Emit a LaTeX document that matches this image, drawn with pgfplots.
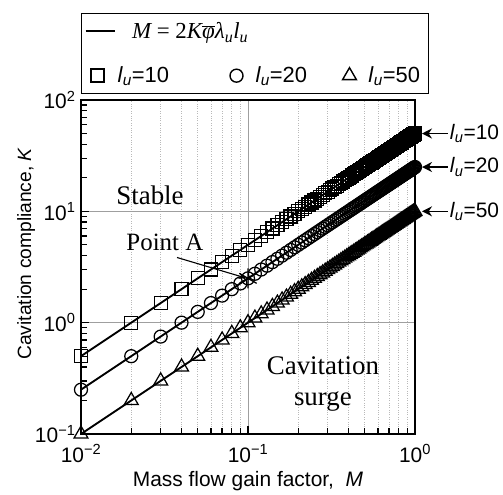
\documentclass[border=0pt]{standalone}
\usepackage{fontspec}
\setmainfont{Liberation Sans}
\newfontfamily\tnr{Liberation Serif}
\usepackage{pgfplots}
\pgfplotsset{compat=1.18}
\usepackage{pgfplotstable}
\usetikzlibrary{arrows.meta}

% K = M / (2 phi lambda_u l_u) sampled at M = 0.01, 0.02, ..., 1.00
\pgfplotstableread[row sep=\\]{
M K10 K20 K50\\
0.01 0.5 0.25 0.1\\ 0.02 1 0.5 0.2\\ 0.03 1.5 0.75 0.3\\ 0.04 2 1 0.4\\ 0.05 2.5 1.25 0.5\\
0.06 3 1.5 0.6\\ 0.07 3.5 1.75 0.7\\ 0.08 4 2 0.8\\ 0.09 4.5 2.25 0.9\\ 0.10 5 2.5 1\\
0.11 5.5 2.75 1.1\\ 0.12 6 3 1.2\\ 0.13 6.5 3.25 1.3\\ 0.14 7 3.5 1.4\\ 0.15 7.5 3.75 1.5\\
0.16 8 4 1.6\\ 0.17 8.5 4.25 1.7\\ 0.18 9 4.5 1.8\\ 0.19 9.5 4.75 1.9\\ 0.20 10 5 2\\
0.21 10.5 5.25 2.1\\ 0.22 11 5.5 2.2\\ 0.23 11.5 5.75 2.3\\ 0.24 12 6 2.4\\ 0.25 12.5 6.25 2.5\\
0.26 13 6.5 2.6\\ 0.27 13.5 6.75 2.7\\ 0.28 14 7 2.8\\ 0.29 14.5 7.25 2.9\\ 0.30 15 7.5 3\\
0.31 15.5 7.75 3.1\\ 0.32 16 8 3.2\\ 0.33 16.5 8.25 3.3\\ 0.34 17 8.5 3.4\\ 0.35 17.5 8.75 3.5\\
0.36 18 9 3.6\\ 0.37 18.5 9.25 3.7\\ 0.38 19 9.5 3.8\\ 0.39 19.5 9.75 3.9\\ 0.40 20 10 4\\
0.41 20.5 10.25 4.1\\ 0.42 21 10.5 4.2\\ 0.43 21.5 10.75 4.3\\ 0.44 22 11 4.4\\ 0.45 22.5 11.25 4.5\\
0.46 23 11.5 4.6\\ 0.47 23.5 11.75 4.7\\ 0.48 24 12 4.8\\ 0.49 24.5 12.25 4.9\\ 0.50 25 12.5 5\\
0.51 25.5 12.75 5.1\\ 0.52 26 13 5.2\\ 0.53 26.5 13.25 5.3\\ 0.54 27 13.5 5.4\\ 0.55 27.5 13.75 5.5\\
0.56 28 14 5.6\\ 0.57 28.5 14.25 5.7\\ 0.58 29 14.5 5.8\\ 0.59 29.5 14.75 5.9\\ 0.60 30 15 6\\
0.61 30.5 15.25 6.1\\ 0.62 31 15.5 6.2\\ 0.63 31.5 15.75 6.3\\ 0.64 32 16 6.4\\ 0.65 32.5 16.25 6.5\\
0.66 33 16.5 6.6\\ 0.67 33.5 16.75 6.7\\ 0.68 34 17 6.8\\ 0.69 34.5 17.25 6.9\\ 0.70 35 17.5 7\\
0.71 35.5 17.75 7.1\\ 0.72 36 18 7.2\\ 0.73 36.5 18.25 7.3\\ 0.74 37 18.5 7.4\\ 0.75 37.5 18.75 7.5\\
0.76 38 19 7.6\\ 0.77 38.5 19.25 7.7\\ 0.78 39 19.5 7.8\\ 0.79 39.5 19.75 7.9\\ 0.80 40 20 8\\
0.81 40.5 20.25 8.1\\ 0.82 41 20.5 8.2\\ 0.83 41.5 20.75 8.3\\ 0.84 42 21 8.4\\ 0.85 42.5 21.25 8.5\\
0.86 43 21.5 8.6\\ 0.87 43.5 21.75 8.7\\ 0.88 44 22 8.8\\ 0.89 44.5 22.25 8.9\\ 0.90 45 22.5 9\\
0.91 45.5 22.75 9.1\\ 0.92 46 23 9.2\\ 0.93 46.5 23.25 9.3\\ 0.94 47 23.5 9.4\\ 0.95 47.5 23.75 9.5\\
0.96 48 24 9.6\\ 0.97 48.5 24.25 9.7\\ 0.98 49 24.5 9.8\\ 0.99 49.5 24.75 9.9\\ 1.00 50 25 10\\
}\gaindata

\newcommand{\lu}{\textit{l}\textsubscript{\textit{u}}}

\begin{document}
\begin{tikzpicture}
\begin{axis}[
  width=334bp, height=334bp, scale only axis,
  xmode=log, ymode=log, log basis x=10, log basis y=10,
  xmin=0.01, xmax=1, ymin=0.1, ymax=100,
  xtick={0.01,0.1,1},
  xticklabels={10\textsuperscript{−2},10\textsuperscript{−1},10\textsuperscript{0}},
  ytick={0.1,1,10,100},
  yticklabels={10\textsuperscript{−1},10\textsuperscript{0},10\textsuperscript{1},10\textsuperscript{2}},
  minor xtick={0.02,0.03,0.04,0.05,0.06,0.07,0.08,0.09,0.2,0.3,0.4,0.5,0.6,0.7,0.8,0.9},
  minor ytick={0.2,0.3,0.4,0.5,0.6,0.7,0.8,0.9,2,3,4,5,6,7,8,9,20,30,40,50,60,70,80,90},
  tick pos=left, tick align=inside,
  major tick length=8bp, minor tick length=6bp,
  every major tick/.style={black, line width=1.3pt},
  every minor tick/.style={black, line width=1.3pt},
  axis line style={line width=1.7pt},
  xmajorgrids, ymajorgrids, xminorgrids,
  major grid style={gray!75, line width=0.9pt},
  minor grid style={gray!55, dotted, line width=0.8pt},
  tick label style={font=\fontsize{21}{25}\selectfont},
  xticklabel style={yshift=-7bp},
  yticklabel style={xshift=-2bp},
  xlabel={Mass flow gain factor, \ \textit{M}},
  xlabel style={font=\fontsize{21}{25}\selectfont, yshift=-2bp},
  ylabel={Cavitation compliance, \textit{K}},
  ylabel style={font=\fontsize{19.3}{23}\selectfont, at={(ticklabel cs:0.54)}, yshift=-7bp},
  clip mode=individual,
  legend columns=3,
  legend style={
    at={(rel axis cs:0,1)}, anchor=south west, yshift=6bp,
    draw=black, line width=1.3pt,
    font=\fontsize{22}{26}\selectfont,
    inner xsep=3bp, inner ysep=7bp,
    row sep=23bp,
    /tikz/every odd column/.append style={column sep=0bp},
    /tikz/every even column/.append style={column sep=28bp},
  },
]
  % lines M = 2 K phi lambda_u l_u
  \addplot[forget plot, black, line width=1.9pt, no marks] table[x=M, y=K10] {\gaindata};
  \addplot[forget plot, black, line width=1.9pt, no marks] table[x=M, y=K20] {\gaindata};
  \addplot[forget plot, black, line width=1.9pt, no marks] table[x=M, y=K50] {\gaindata};
  % computed points
  \addplot[forget plot, only marks, mark=square, mark size=6.5bp, black, line width=1.25pt] table[x=M, y=K10] {\gaindata};
  \addplot[forget plot, only marks, mark=o, mark size=6.5bp, black, line width=1.25pt] table[x=M, y=K20] {\gaindata};
  \addplot[forget plot, only marks, mark=triangle, mark size=8bp, black, line width=1.25pt] table[x=M, y=K50] {\gaindata};
  % Point A
  \addplot[forget plot, only marks, mark=asterisk, mark size=10bp, black, line width=1.3pt] coordinates {(0.1,2.5)};

  % legend (all images share the width of the line sample)
  \addlegendimage{legend image code/.code={\draw[black, line width=1.9pt] (-6bp,0bp) -- (23bp,0bp);}}
  \addlegendentry{\makebox[0pt][l]{\hspace{-24bp}\tnr\fontsize{23}{27}\selectfont\itshape M\upshape\ = 2\itshape K$\overline{\hbox{\tnr\itshape φ}}$λ\textsubscript{u}l\textsubscript{u}}}
  \addlegendimage{empty legend}\addlegendentry{}
  \addlegendimage{empty legend}\addlegendentry{}
  \addlegendimage{legend image code/.code={\path[draw=none] (-6bp,0bp) -- (23bp,0bp);
    \draw[black, line width=1.4pt, mark size=6.5bp] plot[only marks, mark=square] coordinates {(6bp,0bp)};}}
  \addlegendentry{\makebox[77bp][l]{\lu=10}}
  \addlegendimage{legend image code/.code={\path[draw=none] (-6bp,0bp) -- (23bp,0bp);
    \draw[black, line width=1.4pt, mark size=6.5bp] plot[only marks, mark=o] coordinates {(6bp,0bp)};}}
  \addlegendentry{\makebox[52bp][l]{\lu=20}}
  \addlegendimage{legend image code/.code={\path[draw=none] (-6bp,0bp) -- (23bp,0bp);
    \draw[black, line width=1.4pt, mark size=8bp] plot[only marks, mark=triangle] coordinates {(6bp,0bp)};}}
  \addlegendentry{\makebox[55bp][l]{\lu=50}}

  % region labels
  \node[font=\tnr\fontsize{27}{32}\selectfont] at (axis cs:0.0259,13.9) {Stable};
  \node[font=\tnr\fontsize{25}{30}\selectfont] at (axis cs:0.0318,5.25) {Point A};
  \node[font=\tnr\fontsize{27}{31}\selectfont, align=center] at (axis cs:0.281,0.282) {Cavitation\\surge};
  \draw[-{Stealth[length=7bp,width=6bp]}, line width=1.1pt] (axis cs:0.0376,3.85) -- (axis cs:0.097,2.52);

  % curve labels on the right
  \draw[{Stealth[length=10bp,width=10bp]}-, line width=1.6pt]
    ([xshift=7bp]axis cs:1,50) -- ([xshift=33bp]axis cs:1,50)
    node[anchor=west, inner sep=1bp, font=\fontsize{21}{25}\selectfont] {\lu=10};
  \draw[{Stealth[length=10bp,width=10bp]}-, line width=1.6pt]
    ([xshift=7bp]axis cs:1,25) -- ([xshift=33bp]axis cs:1,25)
    node[anchor=west, inner sep=1bp, font=\fontsize{21}{25}\selectfont] {\lu=20};
  \draw[{Stealth[length=10bp,width=10bp]}-, line width=1.6pt]
    ([xshift=7bp]axis cs:1,10) -- ([xshift=33bp]axis cs:1,10)
    node[anchor=west, inner sep=1bp, font=\fontsize{21}{25}\selectfont] {\lu=50};

  % page extent
  \path (rel axis cs:-0.2425,-0.1647) rectangle (rel axis cs:1.2635,1.2994);
\end{axis}
\end{tikzpicture}
\end{document}
